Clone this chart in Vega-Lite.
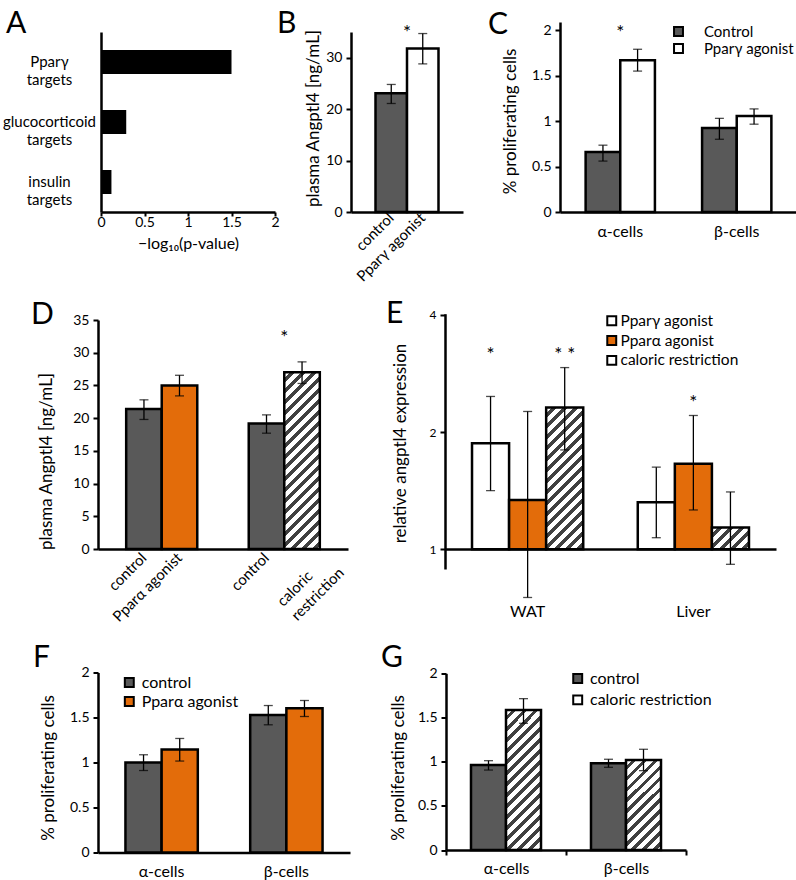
{
  "$schema": "https://vega.github.io/schema/vega-lite/v6.json",
  "padding": {"left": 2, "top": 9, "right": 0, "bottom": 0},
  "params": [
    {"name": "hatch", "value": [
      {"offset":0,"color":"#fff"},{"offset":0.0275,"color":"#fff"},{"offset":0.0275,"color":"#404040"},{"offset":0.05,"color":"#404040"},
      {"offset":0.05,"color":"#fff"},{"offset":0.0775,"color":"#fff"},{"offset":0.0775,"color":"#404040"},{"offset":0.1,"color":"#404040"},
      {"offset":0.1,"color":"#fff"},{"offset":0.1275,"color":"#fff"},{"offset":0.1275,"color":"#404040"},{"offset":0.15,"color":"#404040"},
      {"offset":0.15,"color":"#fff"},{"offset":0.1775,"color":"#fff"},{"offset":0.1775,"color":"#404040"},{"offset":0.2,"color":"#404040"},
      {"offset":0.2,"color":"#fff"},{"offset":0.2275,"color":"#fff"},{"offset":0.2275,"color":"#404040"},{"offset":0.25,"color":"#404040"},
      {"offset":0.25,"color":"#fff"},{"offset":0.2775,"color":"#fff"},{"offset":0.2775,"color":"#404040"},{"offset":0.3,"color":"#404040"},
      {"offset":0.3,"color":"#fff"},{"offset":0.3275,"color":"#fff"},{"offset":0.3275,"color":"#404040"},{"offset":0.35,"color":"#404040"},
      {"offset":0.35,"color":"#fff"},{"offset":0.3775,"color":"#fff"},{"offset":0.3775,"color":"#404040"},{"offset":0.4,"color":"#404040"},
      {"offset":0.4,"color":"#fff"},{"offset":0.4275,"color":"#fff"},{"offset":0.4275,"color":"#404040"},{"offset":0.45,"color":"#404040"},
      {"offset":0.45,"color":"#fff"},{"offset":0.4775,"color":"#fff"},{"offset":0.4775,"color":"#404040"},{"offset":0.5,"color":"#404040"},
      {"offset":0.5,"color":"#fff"},{"offset":0.5275,"color":"#fff"},{"offset":0.5275,"color":"#404040"},{"offset":0.55,"color":"#404040"},
      {"offset":0.55,"color":"#fff"},{"offset":0.5775,"color":"#fff"},{"offset":0.5775,"color":"#404040"},{"offset":0.6,"color":"#404040"},
      {"offset":0.6,"color":"#fff"},{"offset":0.6275,"color":"#fff"},{"offset":0.6275,"color":"#404040"},{"offset":0.65,"color":"#404040"},
      {"offset":0.65,"color":"#fff"},{"offset":0.6775,"color":"#fff"},{"offset":0.6775,"color":"#404040"},{"offset":0.7,"color":"#404040"},
      {"offset":0.7,"color":"#fff"},{"offset":0.7275,"color":"#fff"},{"offset":0.7275,"color":"#404040"},{"offset":0.75,"color":"#404040"},
      {"offset":0.75,"color":"#fff"},{"offset":0.7775,"color":"#fff"},{"offset":0.7775,"color":"#404040"},{"offset":0.8,"color":"#404040"},
      {"offset":0.8,"color":"#fff"},{"offset":0.8275,"color":"#fff"},{"offset":0.8275,"color":"#404040"},{"offset":0.85,"color":"#404040"},
      {"offset":0.85,"color":"#fff"},{"offset":0.8775,"color":"#fff"},{"offset":0.8775,"color":"#404040"},{"offset":0.9,"color":"#404040"},
      {"offset":0.9,"color":"#fff"},{"offset":0.9275,"color":"#fff"},{"offset":0.9275,"color":"#404040"},{"offset":0.95,"color":"#404040"},
      {"offset":0.95,"color":"#fff"},{"offset":0.9775,"color":"#fff"},{"offset":0.9775,"color":"#404040"},{"offset":1,"color":"#404040"}
    ]}
  ],
  "config": {
    "font": "Lato",
    "view": {"stroke": null},
    "axis": {"domainColor": "black", "domainWidth": 2.5, "tickColor": "black", "tickWidth": 2, "tickSize": 5, "labelColor": "black", "labelFont": "Lato", "labelFontSize": 14, "labelFlush": false, "titleColor": "black", "titleFont": "Lato", "titleFontSize": 17, "titleFontWeight": "normal", "grid": false},
    "legend": {"labelFont": "Lato", "labelFontSize": 16, "labelColor": "black", "symbolType": "square", "symbolSize": 80, "symbolStrokeColor": "black", "symbolStrokeWidth": 2, "padding": 0},
    "text": {"font": "Lato", "color": "black"},
    "title": {"font": "Lato", "fontSize": 30, "fontWeight": "normal", "color": "black", "anchor": "start", "frame": "group", "offset": 0, "baseline": "alphabetic"}
  },
  "spacing": 275,
  "bounds": "flush",
  "resolve": {"scale": {"fill": "independent", "xOffset": "independent"}},
  "vconcat": [
    {
      "spacing": 0,
      "bounds": "flush",
      "resolve": {"scale": {"fill": "independent", "xOffset": "independent"}},
      "hconcat": [
        {
          "width": 253, "height": 174,
          "title": {"text": "A", "dx": -92, "dy": 5},
          "layer": [
            {
              "data": {"values": [
                {"target": "Pparγ targets", "v": 1.5},
                {"target": "glucocorticoid targets", "v": 0.29},
                {"target": "insulin targets", "v": 0.12}
              ]},
              "mark": {"type": "bar", "color": "black"},
              "encoding": {
                "y": {"field": "target", "type": "nominal", "sort": null,
                  "scale": {"domain": ["Pparγ targets", "glucocorticoid targets", "insulin targets"], "range": [-6, 174], "paddingInner": 0.6, "paddingOuter": 0.3},
                  "axis": {"title": null, "ticks": false, "tickSize": 0, "offset": -3, "labelPadding": 52, "labelAlign": "center", "labelExpr": "split(datum.value, ' ')", "labelLineHeight": 18, "labelFontSize": 15}},
                "x": {"field": "v", "type": "quantitative",
                  "scale": {"domain": [0, 2], "range": [3, 177], "nice": false},
                  "axis": {"values": [0, 0.5, 1, 1.5, 2], "format": "~g", "tickSize": 4, "title": "−log₁₀(p-value)", "titleX": 90, "titleY": 31, "titleBaseline": "middle", "titleFontSize": 16, "labelPadding": -1}}
              }
            },
            {
              "mark": {"type": "rule", "strokeDash": [3, 2], "strokeWidth": 1, "color": "#333333"},
              "encoding": {"x": {"datum": 1.30103, "type": "quantitative"}}
            }
          ]
        },
        {
          "width": 209, "height": 174,
          "title": {"text": "B", "dx": -74, "dy": 19},
          "data": {"values": [
            {"bar": "control", "mean": 23.1, "lo": 21.1, "hi": 24.8},
            {"bar": "Pparγ agonist", "mean": 31.8, "lo": 28.8, "hi": 34.7}
          ]},
          "encoding": {
            "x": {"field": "bar", "type": "nominal", "sort": null,
              "scale": {"domain": ["control", "Pparγ agonist"], "range": [0, 112], "paddingInner": 0, "paddingOuter": 0.778},
              "axis": {"title": null, "ticks": false, "labelAngle": -45, "labelAlign": "right", "labelBaseline": "middle", "labelPadding": 3, "labelFontSize": 15}},
            "y": {"field": "mean", "type": "quantitative",
              "scale": {"domain": [0, 35], "range": [174, -6], "nice": false},
              "axis": {"values": [0, 10, 20, 30], "title": "plasma Angptl4 [ng/mL]", "titleX": -38, "titleY": 80, "titleBaseline": "middle", "labelPadding": 4}}
          },
          "layer": [
            {
              "mark": {"type": "bar", "stroke": "black", "strokeWidth": 2.5},
              "encoding": {
                "fill": {"field": "bar", "type": "nominal", "scale": {"domain": ["control", "Pparγ agonist"], "range": ["#595959", "#ffffff"]}, "legend": null}
              }
            },
            {"mark": {"type": "rule", "color": "black", "strokeWidth": 1.3},
             "encoding": {"y": {"field": "lo", "type": "quantitative"}, "y2": {"field": "hi"}}},
            {"mark": {"type": "tick", "color": "black", "thickness": 1.3, "size": 9},
             "encoding": {"y": {"field": "lo", "type": "quantitative"}}},
            {"mark": {"type": "tick", "color": "black", "thickness": 1.3, "size": 9},
             "encoding": {"y": {"field": "hi", "type": "quantitative"}}},
            {
              "data": {"values": [{"bar": "Pparγ agonist", "mark": "*", "y": 33.6}]},
              "mark": {"type": "text", "fontSize": 19, "baseline": "alphabetic", "font": "Lato"},
              "encoding": {
                "x": {"field": "bar", "type": "nominal", "bandPosition": 0},
                "y": {"field": "y", "type": "quantitative"},
                "text": {"field": "mark"}
              }
            }
          ]
        },
        {
          "width": 237, "height": 174,
          "title": {"text": "C", "dx": -72, "dy": 20.5},
          "data": {"values": [
            {"group": "α-cells", "series": "Control", "mean": 0.66, "lo": 0.56, "hi": 0.735},
            {"group": "α-cells", "series": "Pparγ agonist", "mean": 1.67, "lo": 1.55, "hi": 1.79},
            {"group": "β-cells", "series": "Control", "mean": 0.925, "lo": 0.8, "hi": 1.03},
            {"group": "β-cells", "series": "Pparγ agonist", "mean": 1.055, "lo": 0.966, "hi": 1.134}
          ]},
          "encoding": {
            "x": {"field": "group", "type": "nominal", "sort": null,
              "scale": {"domain": ["α-cells", "β-cells"], "range": [0, 237], "paddingInner": 0.405, "paddingOuter": 0.22},
              "axis": {"title": null, "ticks": false, "labelAngle": 0, "labelPadding": 11, "labelFontSize": 16}},
            "y": {"field": "mean", "type": "quantitative",
              "scale": {"domain": [0, 2.09], "range": [174, -16], "nice": false},
              "axis": {"values": [0, 0.5, 1, 1.5, 2], "format": "~g", "title": "% proliferating cells", "titleX": -50, "titleY": 83, "titleBaseline": "middle", "labelPadding": 4}}
          },
          "layer": [
            {
              "mark": {"type": "bar", "stroke": "black", "strokeWidth": 2.5},
              "encoding": {
                "xOffset": {"field": "series", "type": "nominal", "scale": {"domain": ["Control", "Pparγ agonist"], "paddingInner": 0, "paddingOuter": 0}},
                "fill": {"field": "series", "type": "nominal", "scale": {"domain": ["Control", "Pparγ agonist"], "range": ["#595959", "#ffffff"]},
                  "legend": {"title": null, "orient": "none", "legendX": 111, "legendY": -14, "labelOffset": 18, "rowPadding": 0, "labelFontSize": 15}}
              }
            },
            {"mark": {"type": "rule", "color": "black", "strokeWidth": 1.3},
             "encoding": {"xOffset": {"field": "series", "type": "nominal"},
               "y": {"field": "lo", "type": "quantitative"}, "y2": {"field": "hi"}}},
            {"mark": {"type": "tick", "color": "black", "thickness": 1.3, "size": 9},
             "encoding": {"xOffset": {"field": "series", "type": "nominal"},
               "y": {"field": "lo", "type": "quantitative"}}},
            {"mark": {"type": "tick", "color": "black", "thickness": 1.3, "size": 9},
             "encoding": {"xOffset": {"field": "series", "type": "nominal"},
               "y": {"field": "hi", "type": "quantitative"}}},
            {
              "data": {"values": [{"group": "α-cells", "mark": "*", "y": 1.906}]},
              "mark": {"type": "text", "fontSize": 19, "baseline": "alphabetic", "font": "Lato"},
              "encoding": {
                "y": {"field": "y", "type": "quantitative"},
                "text": {"field": "mark"}
              }
            }
          ]
        }
      ]
    },
    {
      "spacing": 359.5,
      "bounds": "flush",
      "resolve": {"scale": {"fill": "independent", "xOffset": "independent"}},
      "vconcat": [
        {
          "spacing": 0,
          "bounds": "flush",
          "resolve": {"scale": {"fill": "independent", "xOffset": "independent"}},
          "hconcat": [
            {
              "width": 347, "height": 236,
              "title": {"text": "D", "dx": -67, "dy": 21},
              "data": {"values": [
                {"study": "Pparα", "role": "control", "series": "control", "label": "control", "mean": 21.4, "lo": 19.8, "hi": 22.8},
                {"study": "Pparα", "role": "treatment", "series": "Pparα agonist", "label": "Pparα agonist", "mean": 25.0, "lo": 23.4, "hi": 26.55},
                {"study": "CR", "role": "control", "series": "control", "label": "control", "mean": 19.2, "lo": 17.7, "hi": 20.5},
                {"study": "CR", "role": "treatment", "series": "caloric restriction", "label": "caloric\nrestriction", "mean": 27.0, "lo": 25.3, "hi": 28.6}
              ]},
              "encoding": {
                "x": {"field": "study", "type": "nominal", "sort": null,
                  "scale": {"domain": ["Pparα", "CR"], "range": [0, 250], "paddingInner": 0.42, "paddingOuter": 0.23},
                  "axis": {"title": null, "ticks": false, "labels": false}},
                "y": {"field": "mean", "type": "quantitative",
                  "scale": {"domain": [0, 35], "range": [236, 7], "nice": false},
                  "axis": {"values": [0, 5, 10, 15, 20, 25, 30, 35], "title": "plasma Angptl4 [ng/mL]", "titleX": -52, "titleY": 148, "titleBaseline": "middle", "labelPadding": 4}}
              },
              "layer": [
                {
                  "mark": {"type": "bar", "stroke": "black", "strokeWidth": 2.5},
                  "encoding": {
                    "xOffset": {"field": "role", "type": "nominal", "scale": {"domain": ["control", "treatment"], "paddingInner": 0, "paddingOuter": 0}},
                    "fill": {
                      "condition": {"test": "datum.series === 'caloric restriction'", "value": {"expr": "{gradient: 'linear', x1: 0, y1: 0, x2: 0.2407, y2: 1.1974, stops: hatch}"}},
                      "field": "series", "type": "nominal",
                      "scale": {"domain": ["control", "Pparα agonist", "caloric restriction"], "range": ["#595959", "#e36c0a", "#ffffff"]},
                      "legend": null}
                  }
                },
                {"mark": {"type": "rule", "color": "black", "strokeWidth": 1.3},
                 "encoding": {"xOffset": {"field": "role", "type": "nominal"},
                   "y": {"field": "lo", "type": "quantitative"}, "y2": {"field": "hi"}}},
                {"mark": {"type": "tick", "color": "black", "thickness": 1.3, "size": 9},
                 "encoding": {"xOffset": {"field": "role", "type": "nominal"},
                   "y": {"field": "lo", "type": "quantitative"}}},
                {"mark": {"type": "tick", "color": "black", "thickness": 1.3, "size": 9},
                 "encoding": {"xOffset": {"field": "role", "type": "nominal"},
                   "y": {"field": "hi", "type": "quantitative"}}},
                {"transform": [{"filter": "datum.series !== 'caloric restriction'"}],
                 "mark": {"type": "text", "angle": -45, "align": "right", "baseline": "middle", "dx": -4.5, "dy": 4.5, "fontSize": 15, "font": "Lato"},
                 "encoding": {"xOffset": {"field": "role", "type": "nominal"},
                   "y": {"datum": 0, "type": "quantitative"},
                   "text": {"field": "label"}}},
                {"transform": [{"filter": "datum.series === 'caloric restriction'"}],
                 "mark": {"type": "text", "angle": -45, "align": "left", "baseline": "middle", "dx": -54.5, "dy": 23, "fontSize": 15, "lineHeight": 20, "lineBreak": "\n", "font": "Lato"},
                 "encoding": {"xOffset": {"field": "role", "type": "nominal"},
                   "y": {"datum": 0, "type": "quantitative"},
                   "text": {"field": "label"}}},
                {
                  "data": {"values": [{"study": "CR", "mark": "*", "y": 31.3}]},
                  "mark": {"type": "text", "fontSize": 19, "baseline": "alphabetic", "font": "Lato"},
                  "encoding": {
                    "y": {"field": "y", "type": "quantitative"},
                    "text": {"field": "mark"}
                  }
                }
              ]
            },
            {
              "width": 352, "height": 236,
              "title": {"text": "E", "dx": -59, "dy": 24},
              "data": {"values": [
                {"group": "WAT", "series": "Pparγ agonist", "mean": 1.874, "lo": 1.415, "hi": 2.47},
                {"group": "WAT", "series": "Pparα agonist", "mean": 1.339, "lo": 0.752, "hi": 2.26},
                {"group": "WAT", "series": "caloric restriction", "mean": 2.313, "lo": 1.8, "hi": 2.93},
                {"group": "Liver", "series": "Pparγ agonist", "mean": 1.321, "lo": 1.071, "hi": 1.626},
                {"group": "Liver", "series": "Pparα agonist", "mean": 1.658, "lo": 1.262, "hi": 2.207},
                {"group": "Liver", "series": "caloric restriction", "mean": 1.137, "lo": 0.915, "hi": 1.404}
              ]},
              "encoding": {
                "x": {"field": "group", "type": "nominal", "sort": null,
                  "scale": {"domain": ["WAT", "Liver"], "range": [0, 331], "paddingInner": 0.329, "paddingOuter": 0.163},
                  "axis": {"title": null, "ticks": false, "labelAngle": 0, "labelPadding": 54, "labelFontSize": 16}},
                "xOffset": {"field": "series", "type": "nominal", "scale": {"domain": ["Pparγ agonist", "Pparα agonist", "caloric restriction"], "paddingInner": 0, "paddingOuter": 0}},
                "y": {"field": "mean", "type": "quantitative",
                  "scale": {"type": "log", "base": 2, "domain": [0.89, 4.03], "range": [256, 0.7], "nice": false},
                  "axis": {"values": [1, 2, 4], "format": "d", "labelFontSize": 12, "title": "relative angptl4 expression", "titleX": -45, "titleY": 130, "titleBaseline": "middle", "labelPadding": 4}}
              },
              "layer": [
                {
                  "mark": {"type": "bar", "stroke": "black", "strokeWidth": 2.5},
                  "encoding": {
                    "y2": {"datum": 1},
                    "fill": {
                      "condition": [
                        {"test": "datum.series === 'caloric restriction' && datum.group === 'WAT'", "value": {"expr": "{gradient: 'linear', x1: 0, y1: 0, x2: 0.3795, y2: 1.4535, stops: hatch}"}},
                        {"test": "datum.series === 'caloric restriction' && datum.group === 'Liver'", "value": {"expr": "{gradient: 'linear', x1: 0, y1: 0, x2: 4.424, y2: 2.595, stops: hatch}"}}
                      ],
                      "field": "series", "type": "nominal",
                      "scale": {"domain": ["Pparγ agonist", "Pparα agonist", "caloric restriction"], "range": ["#ffffff", "#e36c0a", "#ffffff"]},
                      "legend": {"title": null, "orient": "none", "legendX": 159, "legendY": 0, "labelOffset": 1, "rowPadding": 1.8, "labelFontSize": 15.5,
                        "encode": {"symbols": {"update": {
                          "stroke": {"value": "black"},
                          "strokeWidth": {"value": 2},
                          "fill": {"signal": "datum.value === 'caloric restriction' ? {gradient: 'linear', x1: 0, y1: 0, x2: 1, y2: 1, stops: [{offset: 0, color: '#fff'}, {offset: 0.36, color: '#fff'}, {offset: 0.36, color: '#404040'}, {offset: 0.64, color: '#404040'}, {offset: 0.64, color: '#fff'}, {offset: 1, color: '#fff'}]} : (datum.value === 'Pparα agonist' ? '#e36c0a' : '#ffffff')"}}}}}
                    }
                  }
                },
                {"mark": {"type": "rule", "color": "black", "strokeWidth": 1.3},
                 "encoding": {"y": {"field": "lo", "type": "quantitative"}, "y2": {"field": "hi"}}},
                {"mark": {"type": "tick", "color": "black", "thickness": 1.3, "size": 9},
                 "encoding": {"y": {"field": "lo", "type": "quantitative"}}},
                {"mark": {"type": "tick", "color": "black", "thickness": 1.3, "size": 9},
                 "encoding": {"y": {"field": "hi", "type": "quantitative"}}},
                {
                  "data": {"values": [
                    {"group": "WAT", "series": "Pparγ agonist", "mark": "*", "y": 3.047},
                    {"group": "WAT", "series": "caloric restriction", "mark": "* *", "y": 3.047},
                    {"group": "Liver", "series": "Pparα agonist", "mark": "*", "y": 2.29}
                  ]},
                  "mark": {"type": "text", "fontSize": 19, "baseline": "alphabetic", "font": "Lato"},
                  "encoding": {
                    "y": {"field": "y", "type": "quantitative"},
                    "text": {"field": "mark"}
                  }
                }
              ]
            }
          ]
        },
        {
          "spacing": 0,
          "bounds": "flush",
          "resolve": {"scale": {"fill": "independent", "xOffset": "independent"}},
          "hconcat": [
            {
              "width": 348, "height": 180,
              "title": {"text": "F", "dx": -65, "dy": 11.4},
              "data": {"values": [
                {"group": "α-cells", "series": "control", "mean": 1.0, "lo": 0.911, "hi": 1.086},
                {"group": "α-cells", "series": "Pparα agonist", "mean": 1.145, "lo": 1.016, "hi": 1.267},
                {"group": "β-cells", "series": "control", "mean": 1.527, "lo": 1.419, "hi": 1.633},
                {"group": "β-cells", "series": "Pparα agonist", "mean": 1.604, "lo": 1.511, "hi": 1.689}
              ]},
              "encoding": {
                "x": {"field": "group", "type": "nominal", "sort": null,
                  "scale": {"domain": ["α-cells", "β-cells"], "range": [0, 252], "paddingInner": 0.42, "paddingOuter": 0.22},
                  "axis": {"title": null, "ticks": false, "labelAngle": 0, "labelPadding": 11, "labelFontSize": 16}},
                "xOffset": {"field": "series", "type": "nominal", "scale": {"domain": ["control", "Pparα agonist"], "paddingInner": 0, "paddingOuter": 0}},
                "y": {"field": "mean", "type": "quantitative",
                  "scale": {"domain": [0, 2], "range": [180, 0], "nice": false},
                  "axis": {"values": [0, 0.5, 1, 1.5, 2], "format": "~g", "title": "% proliferating cells", "titleX": -50, "titleY": 95, "titleBaseline": "middle", "labelPadding": 4}}
              },
              "layer": [
                {
                  "mark": {"type": "bar", "stroke": "black", "strokeWidth": 2.5},
                  "encoding": {
                    "fill": {"field": "series", "type": "nominal", "scale": {"domain": ["control", "Pparα agonist"], "range": ["#595959", "#e36c0a"]},
                      "legend": {"title": null, "orient": "none", "legendX": 23.3, "legendY": 2, "labelOffset": 4.4, "rowPadding": 1}}
                  }
                },
                {"mark": {"type": "rule", "color": "black", "strokeWidth": 1.3},
                 "encoding": {"y": {"field": "lo", "type": "quantitative"}, "y2": {"field": "hi"}}},
                {"mark": {"type": "tick", "color": "black", "thickness": 1.3, "size": 9},
                 "encoding": {"y": {"field": "lo", "type": "quantitative"}}},
                {"mark": {"type": "tick", "color": "black", "thickness": 1.3, "size": 9},
                 "encoding": {"y": {"field": "hi", "type": "quantitative"}}}
              ]
            },
            {
              "width": 351, "height": 180,
              "title": {"text": "G", "dx": -65, "dy": 10.6},
              "data": {"values": [
                {"group": "α-cells", "series": "control", "mean": 0.962, "lo": 0.905, "hi": 1.011},
                {"group": "α-cells", "series": "caloric restriction", "mean": 1.585, "lo": 1.434, "hi": 1.713},
                {"group": "β-cells", "series": "control", "mean": 0.981, "lo": 0.936, "hi": 1.027},
                {"group": "β-cells", "series": "caloric restriction", "mean": 1.019, "lo": 0.898, "hi": 1.14}
              ]},
              "encoding": {
                "x": {"field": "group", "type": "nominal", "sort": null,
                  "scale": {"domain": ["α-cells", "β-cells"], "range": [0, 240], "paddingInner": 0, "paddingOuter": 0},
                  "axis": {"title": null, "ticks": true, "tickBand": "extent", "offset": -2.5, "labelAngle": 0, "labelPadding": 5.5, "labelFontSize": 16}},
                "xOffset": {"field": "series", "type": "nominal", "scale": {"domain": ["control", "caloric restriction"], "paddingInner": 0, "paddingOuter": 0.714}},
                "y": {"field": "mean", "type": "quantitative",
                  "scale": {"domain": [0, 2], "range": [177.5, 0.8], "nice": false},
                  "axis": {"values": [0, 0.5, 1, 1.5, 2], "format": "~g", "title": "% proliferating cells", "titleX": -48, "titleY": 95, "titleBaseline": "middle", "labelPadding": 4}}
              },
              "layer": [
                {
                  "mark": {"type": "bar", "stroke": "black", "strokeWidth": 2.5},
                  "encoding": {
                    "fill": {
                      "condition": [
                        {"test": "datum.series === 'caloric restriction' && datum.group === 'α-cells'", "value": {"expr": "{gradient: 'linear', x1: 0, y1: 0, x2: 0.3717, y2: 1.4828, stops: hatch}"}},
                        {"test": "datum.series === 'caloric restriction' && datum.group === 'β-cells'", "value": {"expr": "{gradient: 'linear', x1: 0, y1: 0, x2: 0.8241, y2: 2.1216, stops: hatch}"}}
                      ],
                      "field": "series", "type": "nominal",
                      "scale": {"domain": ["control", "caloric restriction"], "range": ["#595959", "#ffffff"]},
                      "legend": {"title": null, "orient": "none", "legendX": 123.7, "legendY": -2, "labelOffset": 4.3, "rowPadding": 3.4,
                        "encode": {"symbols": {"update": {
                          "stroke": {"value": "black"},
                          "strokeWidth": {"value": 2},
                          "fill": {"signal": "datum.value === 'caloric restriction' ? {gradient: 'linear', x1: 0, y1: 0, x2: 1, y2: 1, stops: [{offset: 0, color: '#fff'}, {offset: 0.36, color: '#fff'}, {offset: 0.36, color: '#404040'}, {offset: 0.64, color: '#404040'}, {offset: 0.64, color: '#fff'}, {offset: 1, color: '#fff'}]} : '#595959'"}}}}}
                    }
                  }
                },
                {"mark": {"type": "rule", "color": "black", "strokeWidth": 1.3},
                 "encoding": {"y": {"field": "lo", "type": "quantitative"}, "y2": {"field": "hi"}}},
                {"mark": {"type": "tick", "color": "black", "thickness": 1.3, "size": 9},
                 "encoding": {"y": {"field": "lo", "type": "quantitative"}}},
                {"mark": {"type": "tick", "color": "black", "thickness": 1.3, "size": 9},
                 "encoding": {"y": {"field": "hi", "type": "quantitative"}}}
              ]
            }
          ]
        }
      ]
    }
  ]
}
